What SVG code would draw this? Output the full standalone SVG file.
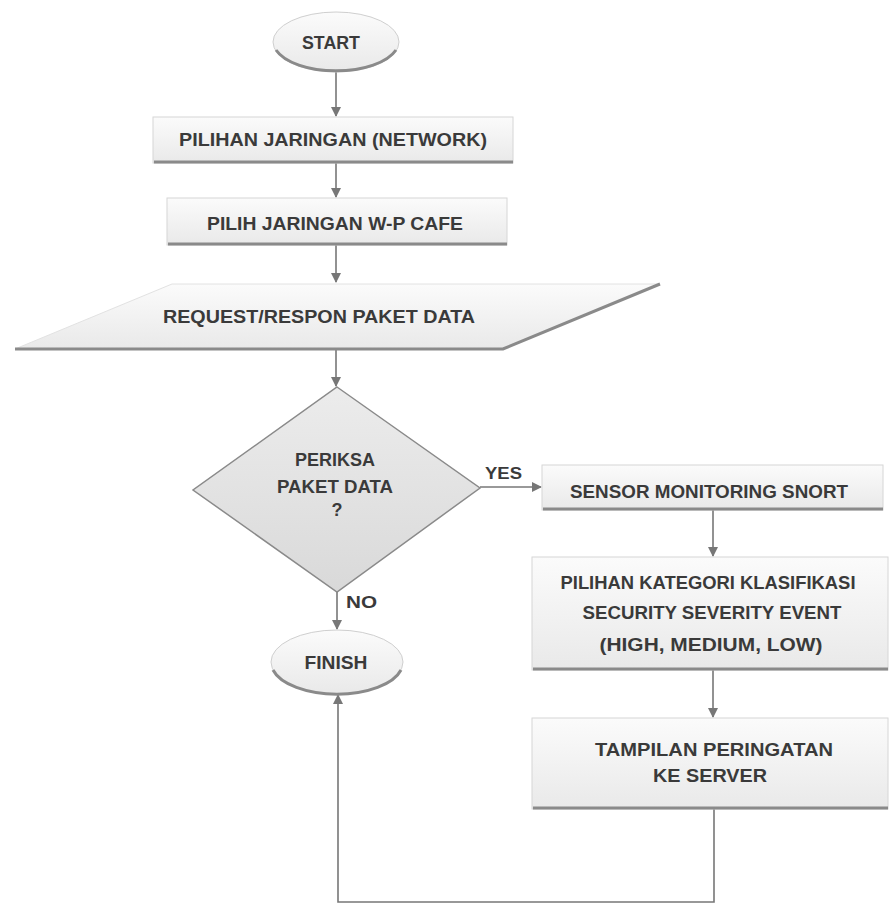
<svg xmlns="http://www.w3.org/2000/svg" width="890" height="904" viewBox="0 0 890 904">
<defs>
<linearGradient id="g" x1="0" y1="0" x2="0" y2="1">
<stop offset="0" stop-color="#fbfbfb"/>
<stop offset="1" stop-color="#e9e9e9"/>
</linearGradient>
<linearGradient id="gd" x1="0" y1="0" x2="0" y2="1">
<stop offset="0" stop-color="#ececec"/>
<stop offset="1" stop-color="#d9d9d9"/>
</linearGradient>
<marker id="ah" viewBox="0 0 10 10" refX="9" refY="5" markerWidth="10" markerHeight="10" markerUnits="userSpaceOnUse" orient="auto">
<path d="M0,0 L10,5 L0,10 Z" fill="#777"/>
</marker>
</defs>
<style>
.box{fill:url(#g);stroke:#d6d6d6;stroke-width:1}
.shadow{stroke:#8a8a8a;stroke-width:3;fill:none}
.t{font-family:"Liberation Sans",Arial,sans-serif;font-weight:bold;font-size:18px;fill:#3a3a3a;text-anchor:middle}
.lbl{font-family:"Liberation Sans",Arial,sans-serif;font-weight:bold;font-size:17px;fill:#3a3a3a}
.c{stroke:#777;stroke-width:1.6;fill:none}
</style>
<rect width="890" height="904" fill="#fff"/>

<g id="connectors">
<path class="c" d="M336,72 V116" marker-end="url(#ah)"/>
<path class="c" d="M336,163 V197" marker-end="url(#ah)"/>
<path class="c" d="M336,245 V282" marker-end="url(#ah)"/>
<path class="c" d="M336,349 V386" marker-end="url(#ah)"/>
<path class="c" d="M337,592 V629" marker-end="url(#ah)"/>
<path class="c" d="M480,487 H541" marker-end="url(#ah)"/>
<path class="c" d="M713,510 V556" marker-end="url(#ah)"/>
<path class="c" d="M713,670 V717" marker-end="url(#ah)"/>
<path class="c" d="M714,809 V902 H338 V695" marker-end="url(#ah)"/>
<text class="lbl" x="485" y="479" textLength="37" lengthAdjust="spacingAndGlyphs">YES</text>
<text class="lbl" x="346" y="608" textLength="31" lengthAdjust="spacingAndGlyphs">NO</text>
</g>

<g id="start">
<ellipse cx="336" cy="42" rx="63" ry="30" fill="url(#g)" stroke="#cfcfcf"/>
<path d="M276,50 A63,30 0 0 0 396,50" class="shadow" stroke-width="2"/>
<text class="t" x="331" y="49" textLength="58" lengthAdjust="spacingAndGlyphs">START</text>
</g>

<g id="pilihan-jaringan">
<rect class="box" x="153" y="117" width="360" height="46"/>
<line class="shadow" x1="154" y1="162" x2="513" y2="162"/>
<text class="t" x="333" y="146" textLength="308" lengthAdjust="spacingAndGlyphs">PILIHAN JARINGAN (NETWORK)</text>
</g>

<g id="pilih-wp-cafe">
<rect class="box" x="167" y="198" width="340" height="47"/>
<line class="shadow" x1="168" y1="244" x2="507" y2="244"/>
<text class="t" x="335" y="230" textLength="256" lengthAdjust="spacingAndGlyphs">PILIH JARINGAN W-P CAFE</text>
</g>

<g id="request-respon">
<polygon points="172,284 660,284 503,349 15,349" fill="url(#g)" stroke="#e2e2e2"/>
<path d="M15,349 H503 L660,284" class="shadow" stroke-width="2.5"/>
<text class="t" x="319" y="323" textLength="312" lengthAdjust="spacingAndGlyphs">REQUEST/RESPON PAKET DATA</text>
</g>

<g id="periksa">
<polygon points="337,387 480,488 337,592 193,490" fill="url(#gd)" stroke="#8a8a8a" stroke-width="1.5"/>
<text class="t" x="335" y="466" textLength="80" lengthAdjust="spacingAndGlyphs">PERIKSA</text>
<text class="t" x="335" y="493" textLength="116" lengthAdjust="spacingAndGlyphs">PAKET DATA</text>
<text class="t" x="337" y="516">?</text>
</g>

<g id="sensor">
<rect class="box" x="542" y="465" width="341" height="45"/>
<line class="shadow" x1="543" y1="509" x2="883" y2="509"/>
<text class="t" x="709" y="498" textLength="278" lengthAdjust="spacingAndGlyphs">SENSOR MONITORING SNORT</text>
</g>

<g id="kategori">
<rect class="box" x="532" y="557" width="356" height="113"/>
<line class="shadow" x1="533" y1="669" x2="888" y2="669"/>
<text class="t" x="708" y="589" textLength="295" lengthAdjust="spacingAndGlyphs">PILIHAN KATEGORI KLASIFIKASI</text>
<text class="t" x="712" y="619" textLength="259" lengthAdjust="spacingAndGlyphs">SECURITY SEVERITY EVENT</text>
<text class="t" x="711" y="651" textLength="223" lengthAdjust="spacingAndGlyphs">(HIGH, MEDIUM, LOW)</text>
</g>

<g id="tampilan">
<rect class="box" x="532" y="718" width="356" height="91"/>
<line class="shadow" x1="533" y1="808" x2="888" y2="808"/>
<text class="t" x="714" y="756" textLength="238" lengthAdjust="spacingAndGlyphs">TAMPILAN PERINGATAN</text>
<text class="t" x="710" y="782" textLength="114" lengthAdjust="spacingAndGlyphs">KE SERVER</text>
</g>

<g id="finish">
<ellipse cx="337" cy="662" rx="66" ry="32" fill="url(#g)" stroke="#cfcfcf"/>
<path d="M273,670 A66,32 0 0 0 401,670" class="shadow" stroke-width="2"/>
<text class="t" x="336" y="669" textLength="63" lengthAdjust="spacingAndGlyphs">FINISH</text>
</g>
</svg>
